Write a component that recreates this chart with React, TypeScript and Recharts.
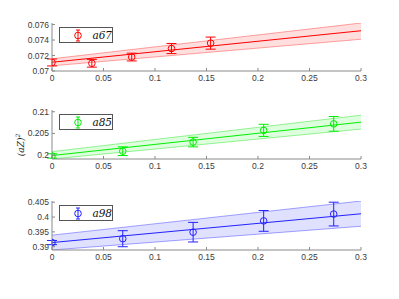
import React from "react";
import {
  Area,
  ComposedChart,
  ErrorBar,
  Legend,
  Line,
  Scatter,
  XAxis,
  YAxis,
} from "recharts";

// x positions of the measured points
const X_A67 = [0, 0.0387, 0.0774, 0.116, 0.154];
const X_OTHER = [0, 0.0687, 0.137, 0.2055, 0.2735];

// measured values and their errors
const Y_A67 = [0.0711, 0.071, 0.0718, 0.0729, 0.0736];
const E_A67 = [0.00045, 0.0005, 0.0005, 0.00065, 0.00078];
const Y_A85 = [0.1998, 0.2009, 0.203, 0.2057, 0.2072];
const E_A85 = [0.0005, 0.001, 0.0011, 0.0014, 0.0017];
const Y_A98 = [0.3914, 0.3927, 0.3949, 0.3987, 0.401];
const E_A98 = [0.0007, 0.0027, 0.0033, 0.0035, 0.004];

// linear fit and confidence band, at x = 0 and x = 0.3
const FIT_X = [0, 0.3];
const FIT_A67 = [0.07113, 0.0752];
const LO_A67 = [0.07067, 0.0741];
const HI_A67 = [0.07158, 0.0762];
const FIT_A85 = [0.1999, 0.2076];
const LO_A85 = [0.1991, 0.206];
const HI_A85 = [0.2008, 0.2092];
const FIT_A98 = [0.3914, 0.4011];
const LO_A98 = [0.3889, 0.3969];
const HI_A98 = [0.3939, 0.4054];

const X_TICKS = [0, 0.05, 0.1, 0.15, 0.2, 0.25, 0.3];

const AXIS = "#8a8a8a";
const TEXT = "#3a3a3a";
const FONT = "'Liberation Sans', Arial, sans-serif";

type Panel = {
  name: string;
  color: string;
  fill: string;
  edge: string;
  xs: number[];
  ys: number[];
  errs: number[];
  fit: number[];
  lo: number[];
  hi: number[];
  domain: [number, number];
  yTicks: number[];
  top: number;
  marginTop: number;
  xAxisHeight: number;
};

const PANELS: Panel[] = [
  {
    name: "a67",
    color: "#ff0000",
    fill: "rgba(255,0,0,0.13)",
    edge: "rgba(255,0,0,0.35)",
    xs: X_A67,
    ys: Y_A67,
    errs: E_A67,
    fit: FIT_A67,
    lo: LO_A67,
    hi: HI_A67,
    domain: [0.07, 0.0762],
    yTicks: [0.07, 0.072, 0.074, 0.076],
    top: 0,
    marginTop: 23,
    xAxisHeight: 13,
  },
  {
    name: "a85",
    color: "#00ee00",
    fill: "rgba(0,255,0,0.13)",
    edge: "rgba(0,220,0,0.4)",
    xs: X_OTHER,
    ys: Y_A85,
    errs: E_A85,
    fit: FIT_A85,
    lo: LO_A85,
    hi: HI_A85,
    domain: [0.1991, 0.2104],
    yTicks: [0.2, 0.205, 0.21],
    top: 90,
    marginTop: 20,
    xAxisHeight: 15,
  },
  {
    name: "a98",
    color: "#2222ff",
    fill: "rgba(0,0,255,0.12)",
    edge: "rgba(0,0,255,0.35)",
    xs: X_OTHER,
    ys: Y_A98,
    errs: E_A98,
    fit: FIT_A98,
    lo: LO_A98,
    hi: HI_A98,
    domain: [0.3889, 0.4054],
    yTicks: [0.39, 0.395, 0.4, 0.405],
    top: 180,
    marginTop: 21,
    xAxisHeight: 14,
  },
];

const XTick = (props: any) => {
  const { x, y, payload } = props;
  return (
    <g>
      <line x1={x} x2={x} y1={y} y2={y - 3} stroke={AXIS} />
      <text
        x={x}
        y={y + 10}
        textAnchor="middle"
        fontSize={8.5}
        fill={TEXT}
        fontFamily={FONT}
      >
        {String(payload.value)}
      </text>
    </g>
  );
};

const YTick = (props: any) => {
  const { x, y, payload } = props;
  return (
    <g>
      <line x1={x} x2={x + 3} y1={y} y2={y} stroke={AXIS} />
      <text
        x={x - 3}
        y={y + 3}
        textAnchor="end"
        fontSize={8.5}
        fill={TEXT}
        fontFamily={FONT}
      >
        {String(payload.value)}
      </text>
    </g>
  );
};

function PanelChart({ p }: { p: Panel }) {
  const points = p.xs.map((x, i) => ({ x, y: p.ys[i], err: p.errs[i] }));
  const fit = FIT_X.map((x, i) => ({
    x,
    y: p.fit[i],
    band: [p.lo[i], p.hi[i]],
  }));

  const legend = () => (
    <div
      style={{
        width: 54,
        height: 16,
        border: "1px solid #555",
        background: "#fff",
        display: "flex",
        alignItems: "center",
        boxSizing: "border-box",
      }}
    >
      <svg width={30} height={15}>
        <line x1={18} x2={18} y1={2} y2={13} stroke={p.color} />
        <line x1={16} x2={20} y1={2} y2={2} stroke={p.color} />
        <line x1={16} x2={20} y1={13} y2={13} stroke={p.color} />
        <circle cx={18} cy={7.5} r={3.3} fill="none" stroke={p.color} />
      </svg>
      <span
        style={{
          fontFamily: "'DejaVu Serif', serif",
          fontStyle: "italic",
          fontSize: 10.5,
          color: "#111",
          marginLeft: 3,
        }}
      >
        {p.name}
      </span>
    </div>
  );

  return (
    <div style={{ position: "absolute", left: 0, top: p.top }}>
      <ComposedChart
        width={399}
        height={100}
        margin={{ top: p.marginTop, right: 38, bottom: 0, left: 0 }}
      >
        <XAxis
          dataKey="x"
          type="number"
          domain={[0, 0.3]}
          ticks={X_TICKS}
          interval={0}
          allowDataOverflow
          height={p.xAxisHeight}
          stroke={AXIS}
          tickLine={false}
          tickSize={0}
          tickMargin={0}
          tick={<XTick />}
        />
        <YAxis
          type="number"
          domain={p.domain}
          ticks={p.yTicks}
          interval={0}
          allowDataOverflow
          width={52}
          stroke={AXIS}
          tickLine={false}
          tickSize={0}
          tickMargin={0}
          tick={<YTick />}
        />
        <Legend
          content={legend}
          wrapperStyle={{ position: "absolute", left: 59, top: p.marginTop + 4, width: "auto" }}
        />
        <Area
          data={fit}
          dataKey="band"
          type="linear"
          fill={p.fill}
          fillOpacity={1}
          stroke={p.edge}
          strokeWidth={1}
          isAnimationActive={false}
          legendType="none"
        />
        <Line
          data={fit}
          dataKey="y"
          type="linear"
          stroke={p.color}
          strokeWidth={1}
          dot={false}
          isAnimationActive={false}
          legendType="none"
        />
        <Scatter
          data={points}
          dataKey="y"
          isAnimationActive={false}
          shape={(s: any) => (
            <circle cx={s.cx} cy={s.cy} r={3.3} fill="none" stroke={p.color} />
          )}
        >
          <ErrorBar dataKey="err" direction="y" width={5} stroke={p.color} strokeWidth={1} />
        </Scatter>
      </ComposedChart>
    </div>
  );
}

export default function App() {
  return (
    <div
      style={{
        position: "absolute",
        left: 0,
        top: 0,
        width: 399,
        height: 299,
        background: "#fff",
      }}
    >
      {PANELS.map((p) => (
        <PanelChart key={p.name} p={p} />
      ))}
      <div
        style={{
          position: "absolute",
          left: 20,
          top: 145,
          transform: "translate(-50%, -50%) rotate(-90deg)",
          fontFamily: "'DejaVu Serif', serif",
          fontStyle: "italic",
          fontSize: 9,
          color: "#222",
          whiteSpace: "nowrap",
        }}
      >
        (aZ)<sup style={{ fontSize: 6 }}>2</sup>
      </div>
    </div>
  );
}
